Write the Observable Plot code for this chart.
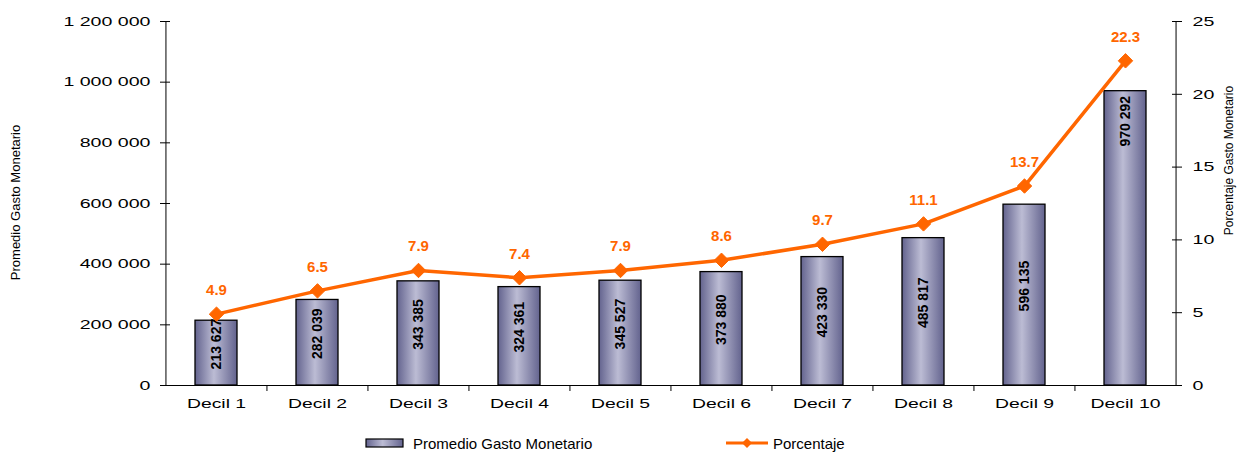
<!DOCTYPE html>
<html>
<head>
<meta charset="utf-8">
<script src="https://cdn.jsdelivr.net/npm/d3@7"></script>
<script src="https://cdn.jsdelivr.net/npm/@observablehq/plot@0.6"></script>
<style>
  body { margin: 0; background: #fff; font-family: "Liberation Sans", Arial, sans-serif; }
  #chart { width: 1238px; height: 455px; position: relative; }
  #legend { position: absolute; top: 432px; left: 0; width: 1238px; height: 22px; font-size: 15px; color: #000; }
  .item { position: absolute; top: 0; display: flex; align-items: center; height: 22px; }
</style>
</head>
<body>
<div id="chart"></div>
<script>
const categories = ["Decil 1","Decil 2","Decil 3","Decil 4","Decil 5","Decil 6","Decil 7","Decil 8","Decil 9","Decil 10"];
const gasto = [213627, 282039, 343385, 324361, 345527, 373880, 423330, 485817, 596135, 970292];
const porcentaje = [4.9, 6.5, 7.9, 7.4, 7.9, 8.6, 9.7, 11.1, 13.7, 22.3];
const leftTicks = [0, 200000, 400000, 600000, 800000, 1000000, 1200000];
const rightTicks = [0, 5, 10, 15, 20, 25];

const W = 1238, H = 420;
const mL = 165, mR = 62, mT = 21, mB = 35;
const step = (W - mL - mR) / categories.length;
const k = 1200000 / 25;
const ORANGE = "#FF6600";

const data = categories.map((c, i) => ({cat: c, v: gasto[i], p: porcentaje[i], i}));
const loc = d3.formatLocale({decimal: ".", thousands: " ", grouping: [3], currency: ["", ""]});
const fmtSpace = loc.format(",");

const plot = Plot.plot({
  width: W, height: H,
  marginLeft: mL, marginRight: mR, marginTop: mT, marginBottom: mB,
  style: {fontFamily: "'Liberation Sans', Arial, sans-serif", fontSize: "14px", color: "#000", background: "#fff"},
  x: {domain: categories, paddingInner: 0.585, paddingOuter: 0.2925},
  y: {domain: [0, 1200000]},
  marks: [
    Plot.barY(data, {x: "cat", y: "v", fill: "url(#barGrad)", stroke: "#000", strokeWidth: 1.3}),
    Plot.text(data.filter(d => d.i < 9), {x: "cat", y: d => d.v / 2, text: d => fmtSpace(d.v), rotate: -90, dy: -9,
      fontWeight: "bold", fontSize: 14, fill: "#000", ariaLabel: "bar-labels"}),
    Plot.text(data.filter(d => d.i === 9), {x: "cat", y: "v", text: d => fmtSpace(d.v), rotate: -90, dy: 30,
      fontWeight: "bold", fontSize: 14, fill: "#000", ariaLabel: "bar-labels"}),
    // axis lines
    Plot.ruleY([0], {stroke: "#000", strokeWidth: 1}),
    Plot.ruleX([categories[0]], {x: d => d, dx: -step / 2, stroke: "#000"}),
    Plot.ruleX([categories[categories.length - 1]], {x: d => d, dx: step / 2, stroke: "#000"}),
    // x boundary ticks
    Plot.ruleX(categories.slice(1), {x: d => d, dx: -step / 2, y1: 0, y2: 0, insetBottom: -6, stroke: "#000"}),
    Plot.axisX({tickSize: 0, tickPadding: 14, fontSize: 12.5, label: null}),
    Plot.axisY(leftTicks, {anchor: "left", tickSize: 10, dx: 5, tickPadding: 10, tickFormat: fmtSpace, fontSize: 13.5, label: null}),
    Plot.axisY(rightTicks.map(t => t * k), {anchor: "right", tickSize: 10, dx: -5, tickPadding: 11, tickFormat: d => String(d / k), fontSize: 13.5, label: null}),
    Plot.text(["Promedio Gasto Monetario"], {frameAnchor: "left", textAnchor: "middle", dx: -150, dy: -1, rotate: -90, text: d => d, fontSize: 13, fill: "#000", ariaLabel: "title-left"}),
    Plot.text(["Porcentaje Gasto Monetario"], {frameAnchor: "right", textAnchor: "middle", dx: 53, dy: -43, rotate: -90, text: d => d, fontSize: 12, fill: "#000", ariaLabel: "title-right"}),
    // line series
    Plot.line(data, {x: "cat", y: d => d.p * k, stroke: ORANGE, strokeWidth: 3.5}),
    Plot.dot(data, {x: "cat", y: d => d.p * k, symbol: "diamond2", r: 6.5, fill: ORANGE, stroke: ORANGE, strokeWidth: 1}),
    Plot.text(data, {x: "cat", y: d => d.p * k, text: d => d.p.toFixed(1), dy: -24, fill: ORANGE, fontWeight: "bold", fontSize: 15, ariaLabel: "pct-labels"})
  ]
});

const defs = d3.select(plot).insert("defs", ":first-child");
const g = defs.append("linearGradient").attr("id", "barGrad").attr("x1", "0").attr("x2", "1").attr("y1", "0").attr("y2", "0");
g.append("stop").attr("offset", "0%").attr("stop-color", "#63638e");
g.append("stop").attr("offset", "45%").attr("stop-color", "#bcbcd4");
g.append("stop").attr("offset", "100%").attr("stop-color", "#63638e");

const chart = document.getElementById("chart");
chart.appendChild(plot);

// horizontal stretch of glyphs, as in the reference rendering
function stretch(sel, f) {
  d3.select(plot).selectAll(sel).each(function () {
    const w = this.getComputedTextLength();
    this.setAttribute("textLength", (w * f).toFixed(1));
    this.setAttribute("lengthAdjust", "spacingAndGlyphs");
  });
}
stretch('g[aria-label="y-axis tick label"] text', 1.45);
stretch('g[aria-label="x-axis tick label"] text', 1.55);
stretch('g[aria-label="pct-labels"] text', 1.38);
stretch('g[aria-label="bar-labels"] text', 1.05);
stretch('g[aria-label="title-left"] text', 1.0);
stretch('g[aria-label="title-right"] text', 0.9);

const legend = document.createElement("div");
legend.id = "legend";
legend.innerHTML = `
  <div class="item" style="left:365px">
    <svg width="40" height="12" style="margin-right:8px"><defs><linearGradient id="lg" x1="0" x2="1"><stop offset="0%" stop-color="#63638e"/><stop offset="45%" stop-color="#bcbcd4"/><stop offset="100%" stop-color="#63638e"/></linearGradient></defs><rect x="1" y="2" width="37" height="8" fill="url(#lg)" stroke="#000" stroke-width="1.2"/></svg>
    <span>Promedio Gasto Monetario</span>
  </div>
  <div class="item" style="left:726px">
    <svg width="44" height="12" style="margin-right:3px"><line x1="0" y1="6" x2="42" y2="6" stroke="${ORANGE}" stroke-width="3"/><path d="M21,1 L26,6 L21,11 L16,6 Z" fill="${ORANGE}"/></svg>
    <span>Porcentaje</span>
  </div>`;
chart.appendChild(legend);
</script>
</body>
</html>
